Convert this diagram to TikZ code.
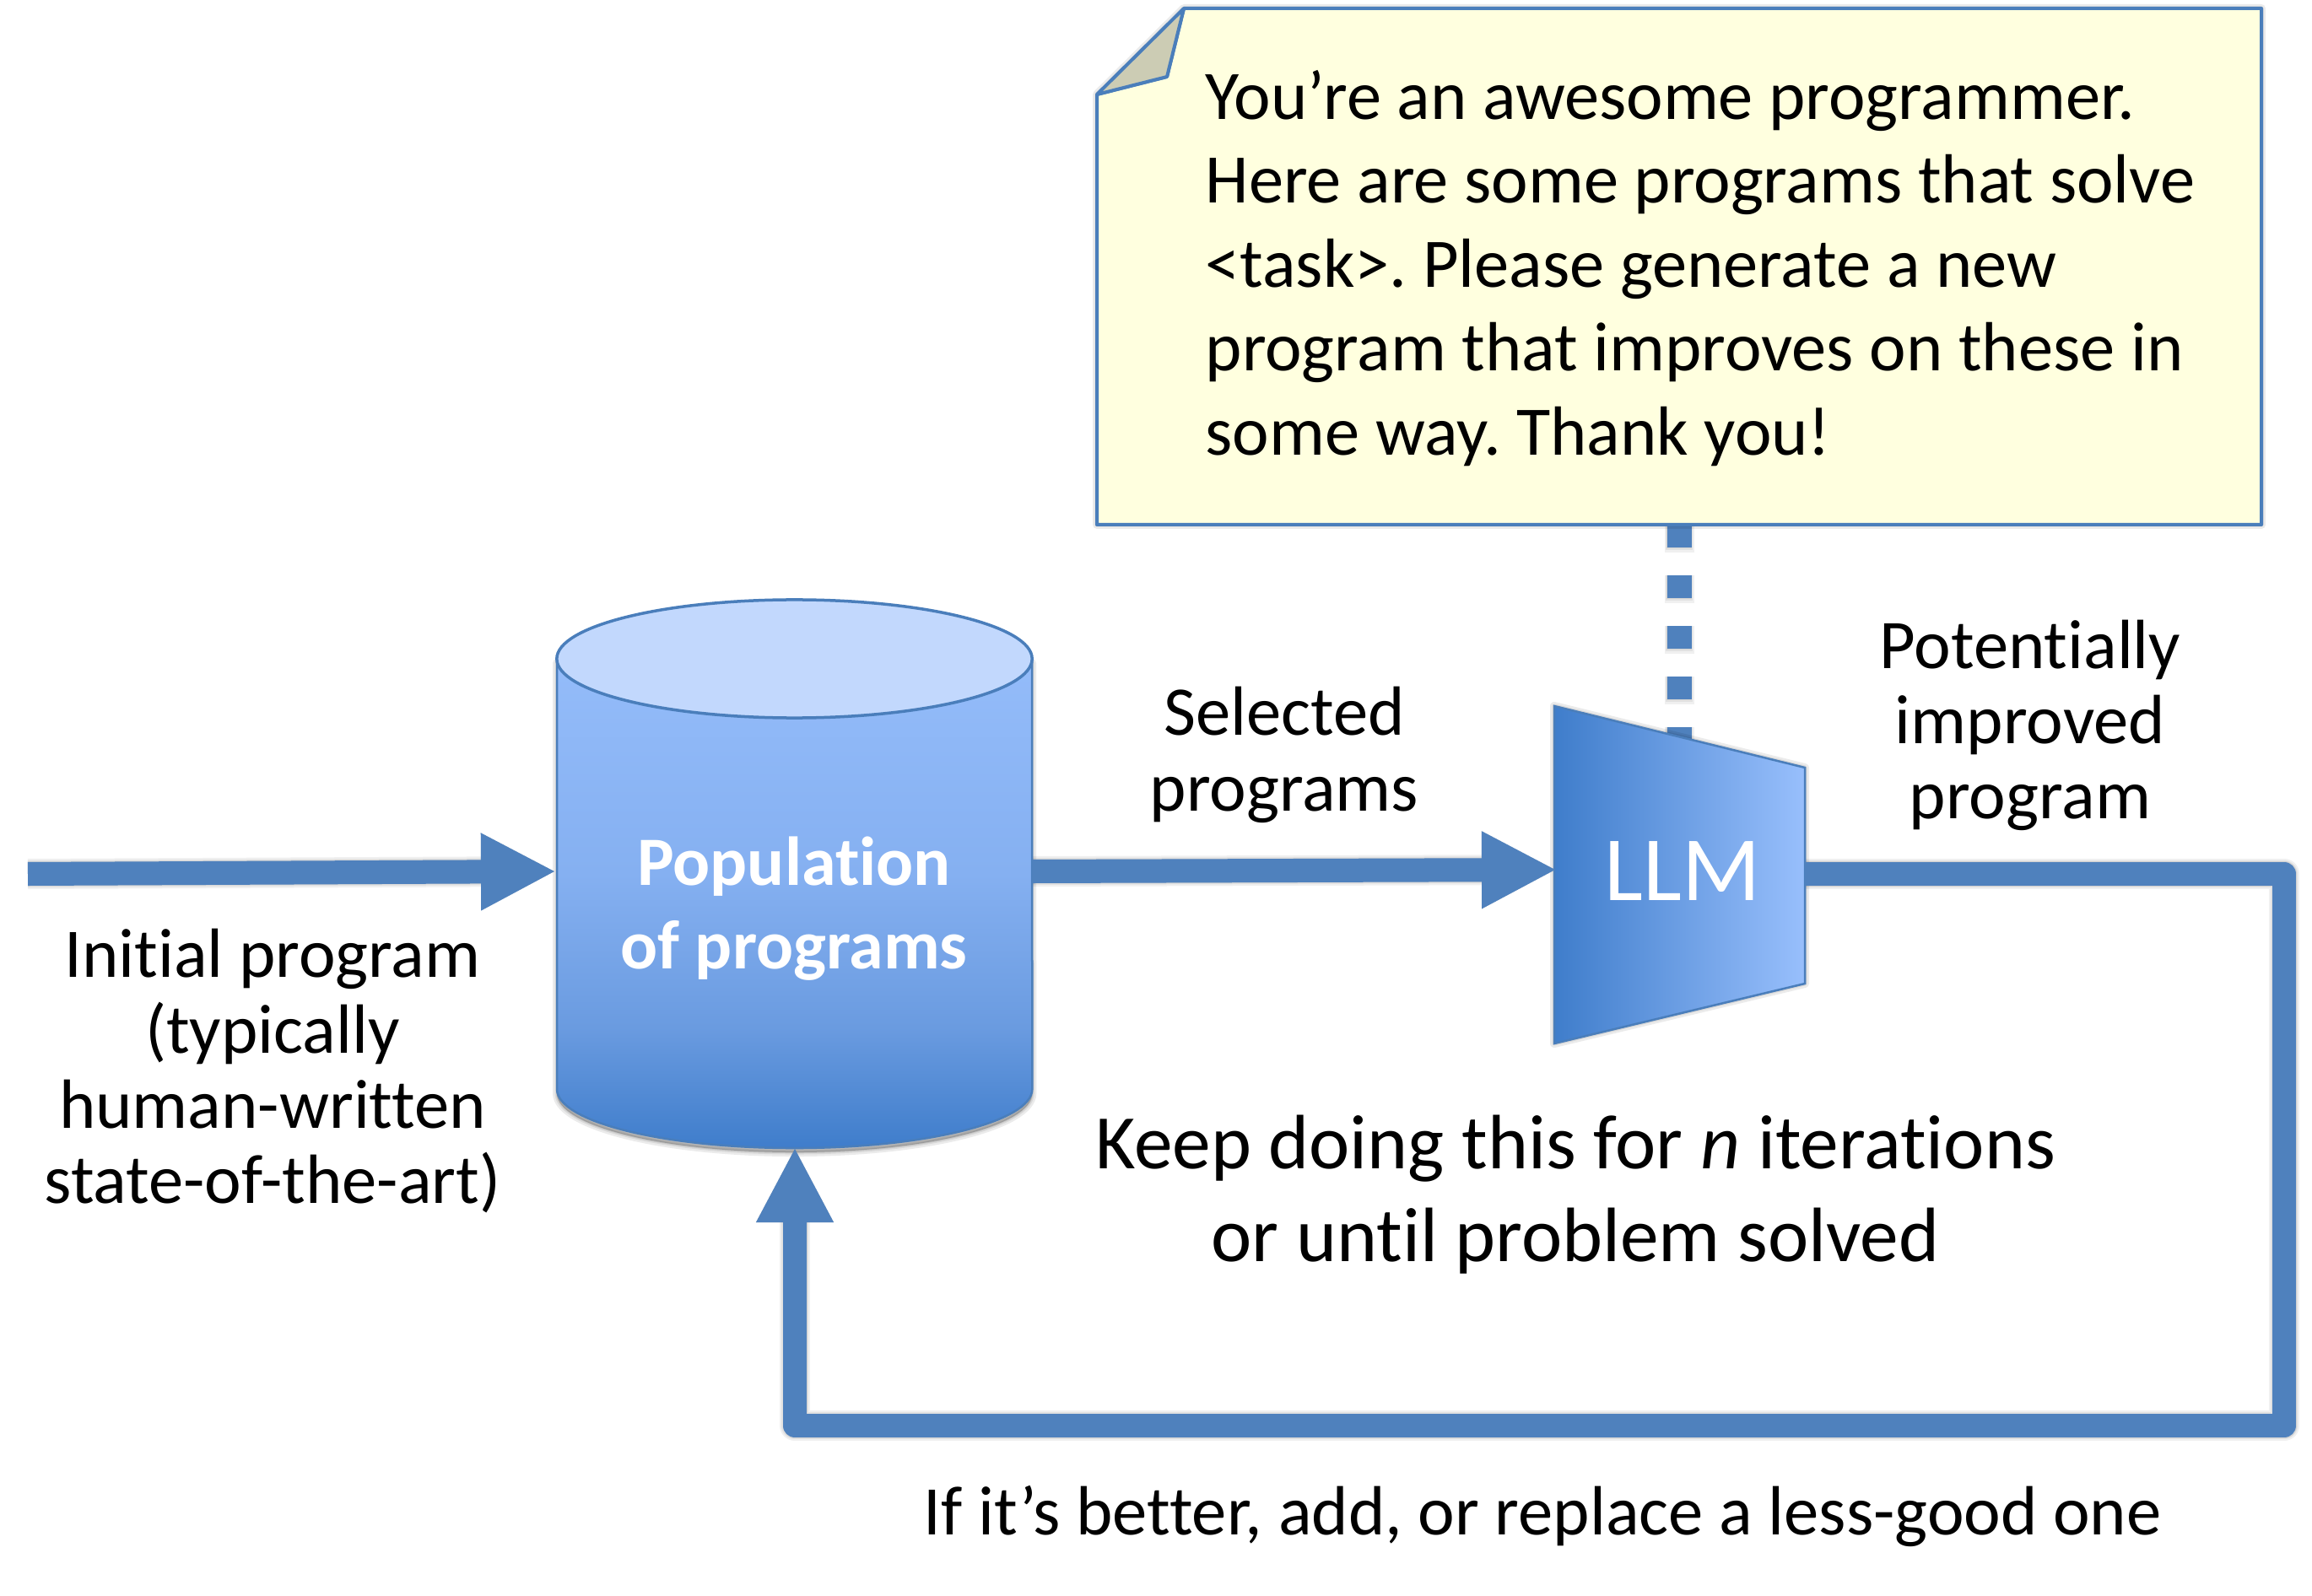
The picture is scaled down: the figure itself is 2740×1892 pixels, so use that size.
\documentclass[tikz,border=0pt]{standalone}
\usepackage{fontspec}
\setmainfont{Carlito}[Ligatures=NoCommon]
\usetikzlibrary{arrows.meta}
\definecolor{conn}{HTML}{4F81BD}
\definecolor{edge}{HTML}{4A7EBB}
\definecolor{notefill}{HTML}{FFFFDF}
\definecolor{foldfill}{HTML}{CCCCB4}
\definecolor{gradtop}{HTML}{98BFFC}
\definecolor{gradup}{HTML}{85B0F1}
\definecolor{gradmid}{HTML}{6A9BE0}
\definecolor{gradbot}{HTML}{3F7DCB}
\definecolor{captop}{HTML}{C2D8FD}
\pgfdeclareverticalshading{cylbody}{100bp}{color(0bp)=(gradbot); color(25bp)=(gradbot); color(36bp)=(gradmid); color(50bp)=(gradup); color(75bp)=(gradtop); color(100bp)=(gradtop)}
\tikzset{
  flow/.style={draw=conn,line width=0.28cm,line join=round},
  flowtip/.style={-{Triangle[length=0.89cm,width=0.85cm]}},
  dashline/.style={draw=conn,line width=0.29cm,dash pattern=on 0.27cm off 0.33cm},
  sshade/.style={draw=black,draw opacity=0.06,line join=round,yshift=-0.06cm},
  fshade/.style={draw=black,fill=black,draw opacity=0.08,fill opacity=0.08,line join=round,yshift=-0.05cm},
  txt/.style={inner sep=0pt,align=center,text=black},
  labeltxt/.style={txt,font=\frenchspacing\fontsize{23.5pt}{25.4pt}\selectfont},
}
\newcommand{\shapeshadow}[1]{\foreach \e in {0.10cm,0.05cm,0.02cm}{\path[fshade,line width=\e] #1;}}
\begin{document}
\begin{tikzpicture}[x=0.01cm,y=-0.01cm]
\useasboundingbox[fill=white] (0,0) rectangle (2740,1892);
% named anchors
\coordinate (noteTL) at (1403,10);
\coordinate (noteTR) at (2680,10);
\coordinate (noteBR) at (2680,622);
\coordinate (noteBL) at (1300,622);
\coordinate (noteFL) at (1300,112);
\coordinate (noteFI) at (1383,91);
\coordinate (noteS) at (1990,622);
\coordinate (llmTL) at (1842,837);
\coordinate (llmTR) at (2139,910);
\coordinate (llmBR) at (2139,1166);
\coordinate (llmBL) at (1842,1237);
\coordinate (llmW) at (1845,1031);
\coordinate (llmE) at (2139,1036);
\coordinate (llmT) at (1990,880);
\coordinate (popW) at (659,1033);
\coordinate (popE) at (1223,1033);
\coordinate (popS) at (942,1360);
\coordinate (inStart) at (33,1036);
\coordinate (loopA) at (2707,1036);
\coordinate (loopB) at (2707,1690);
\coordinate (loopC) at (942,1690);
% dotted link shadow + link
\foreach \e in {0.06cm,0.03cm,0.01cm}{\path[sshade,line width=0.29cm+\e,dash pattern=on 0.27cm+\e off 0.33cm-\e] (noteS) -- (llmT);}
\draw[dashline] (noteS) -- (llmT);
% shadows of shapes
\shapeshadow{(noteTL) -- (noteTR) -- (noteBR) -- (noteBL) -- (noteFL) -- cycle}
\shapeshadow{(llmTL) -- (llmTR) -- (llmBR) -- (llmBL) -- cycle}
\shapeshadow{(660,781) -- (660,1291) arc[start angle=180,end angle=360,x radius=2.815cm,y radius=0.70cm] -- (1223,781) -- cycle}
% shadows of connectors
\foreach \e in {0.08cm,0.04cm,0.01cm}{
  \path[sshade,line width=0.28cm+\e,flowtip] (inStart) -- (popW);
  \path[sshade,line width=0.28cm+\e,flowtip] (popE) -- (llmW);
  \path[sshade,line width=0.28cm+\e,flowtip] (llmE) -- (loopA) -- (loopB) -- (loopC) -- (popS);
}
% callout
\draw[draw=edge,line width=0.04cm,fill=notefill,line join=round] (noteTL) -- (noteTR) -- (noteBR) -- (noteBL) -- (noteFL) -- (noteFI) -- cycle;
\draw[draw=edge,line width=0.04cm,fill=foldfill,line join=round] (noteTL) -- (noteFL) -- (noteFI) -- cycle;
\node[txt,align=left,anchor=west,font=\frenchspacing\fontsize{23.45pt}{28.3pt}\selectfont] (note) at (1428,318) {You’re an awesome programmer.\\Here are some programs that solve\\<task>. Please generate a new\\program that improves on these in\\some way. Thank you!};
% cylinder
\shade[shading=cylbody] (660,781) -- (660,1291) arc[start angle=180,end angle=360,x radius=2.815cm,y radius=0.70cm] -- (1223,781) arc[start angle=0,end angle=180,x radius=2.815cm,y radius=0.70cm] -- cycle;
\draw[draw=edge,line width=0.025cm] (660,781) -- (660,1291) arc[start angle=180,end angle=360,x radius=2.815cm,y radius=0.70cm] -- (1223,781);
\draw[draw=edge,line width=0.035cm,fill=captop] (941.5,781) ellipse[x radius=2.815cm,y radius=0.70cm];
\node[txt,text=white,font=\bfseries\fontsize{23.35pt}{28.3pt}\selectfont] (pop) at (941,1077) {Population\\of programs};
% LLM
\shade[left color=gradbot,right color=gradtop] (llmTL) -- (llmTR) -- (llmBR) -- (llmBL) -- cycle;
\draw[draw=edge,line width=0.025cm] (llmTL) -- (llmTR) -- (llmBR) -- (llmBL) -- cycle;
\node[txt,text=white,font=\fontsize{31pt}{38pt}\selectfont] (llm) at (1994,1033) {LLM};
% connectors
\draw[flow,flowtip] (inStart) -- (popW);
\draw[flow,flowtip] (popE) -- (llmW);
\draw[flow,flowtip] (llmE) -- (loopA) -- (loopB) -- (loopC) -- (popS);
% labels
\node[labeltxt] (initial) at (323,1270) {Initial program\\(typically\\human-written\\state-of-the-art)};
\node[labeltxt] (selected) at (1522,895) {Selected\\programs};
\node[labeltxt] (improved) at (2406,860) {Potentially\\improved\\program};
\node[txt,font=\fontsize{26pt}{31.3pt}\selectfont] (keep) at (1867,1416) {Keep doing this for \emph{n} iterations\\or until problem solved};
\node[labeltxt] (better) at (1828,1797) {If it’s better, add, or replace a less-good one};
\end{tikzpicture}
\end{document}
